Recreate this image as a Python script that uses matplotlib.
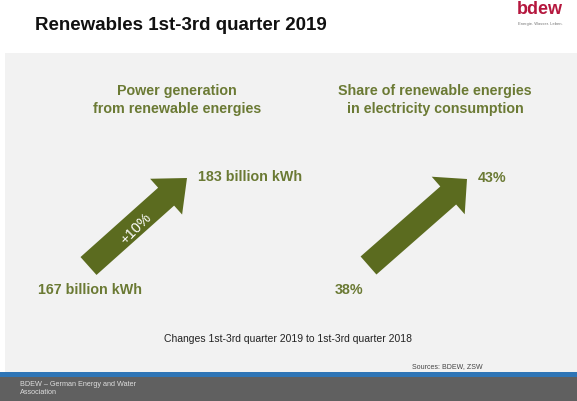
import matplotlib.pyplot as plt
from matplotlib.patches import Rectangle, FancyArrow

plt.rcParams['font.family'] = ['Liberation Sans', 'DejaVu Sans']

# values shown on the slide
labels = ['Power generation\nfrom renewable energies',
          'Share of renewable energies\nin electricity consumption']
start_values = ['167 billion kWh', '38%']
end_values = ['183 billion kWh', '43%']
changes = ['+10%', '']

green = '#5b6b1f'
text_green = '#6b7a34'

W, H = 577, 401
fig = plt.figure(figsize=(W / 100, H / 100), dpi=100)
ax = fig.add_axes([0, 0, 1, 1])
ax.set_xlim(0, W)
ax.set_ylim(H, 0)
ax.axis('off')

# background panels
ax.add_patch(Rectangle((5, 53), W - 5, 319, color='#f2f2f2', lw=0))
ax.add_patch(Rectangle((0, 372), W, 5, color='#2e75b6', lw=0))
ax.add_patch(Rectangle((0, 377), W, 24, color='#606060', lw=0))

ax.text(35, 25, 'Renewables 1st-3rd quarter 2019', fontsize=13.5,
        fontweight='bold', color='#111111', va='center', ha='left')
ax.text(540, 9, 'bdew', fontsize=13, fontweight='bold', color='#b5173e',
        va='center', ha='center')
ax.text(540, 24, 'Energie. Wasser. Leben.', fontsize=3, color='#777777',
        va='center', ha='center')

# arrows: tail centre, tip, shaft width, head width, head length
arrows = [((88.5, 266), (187, 178), 24, 48, 28),
          ((368.5, 265.5), (467, 179), 24, 50, 25)]
heading_x = [177, 435]
start_x = [38, 335]

for i, (tail, tip, w, hw, hl) in enumerate(arrows):
    ax.text(heading_x[i], 100, labels[i], fontsize=10.3, fontweight='bold',
            color=text_green, ha='center', va='center', linespacing=1.4)
    dx, dy = tip[0] - tail[0], tip[1] - tail[1]
    ax.add_patch(FancyArrow(tail[0], tail[1], dx, dy, width=w,
                            head_width=hw, head_length=hl,
                            length_includes_head=True, color=green, lw=0))
    ax.text(tip[0] + 11, tip[1] - 1, end_values[i], fontsize=10.3,
            fontweight='bold', color=text_green, ha='left', va='center')
    ax.text(start_x[i], 290, start_values[i], fontsize=10.3,
            fontweight='bold', color=text_green, ha='left', va='center')
    if changes[i]:
        ax.text(136, 229, changes[i], fontsize=10.5, color='white',
                rotation=45, ha='center', va='center',
                rotation_mode='anchor')

ax.text(288, 339, 'Changes 1st-3rd quarter 2019 to 1st-3rd quarter 2018',
        fontsize=7.5, color='#222222', ha='center', va='center')
ax.text(483, 367, 'Sources: BDEW, ZSW', fontsize=5, color='#444444',
        ha='right', va='center')
ax.text(20, 389, 'BDEW \u2013 German Energy and Water\nAssociation',
        fontsize=5.2, color='#dddddd', ha='left', va='center',
        linespacing=1.2)

fig.savefig('out.png', dpi=100)
